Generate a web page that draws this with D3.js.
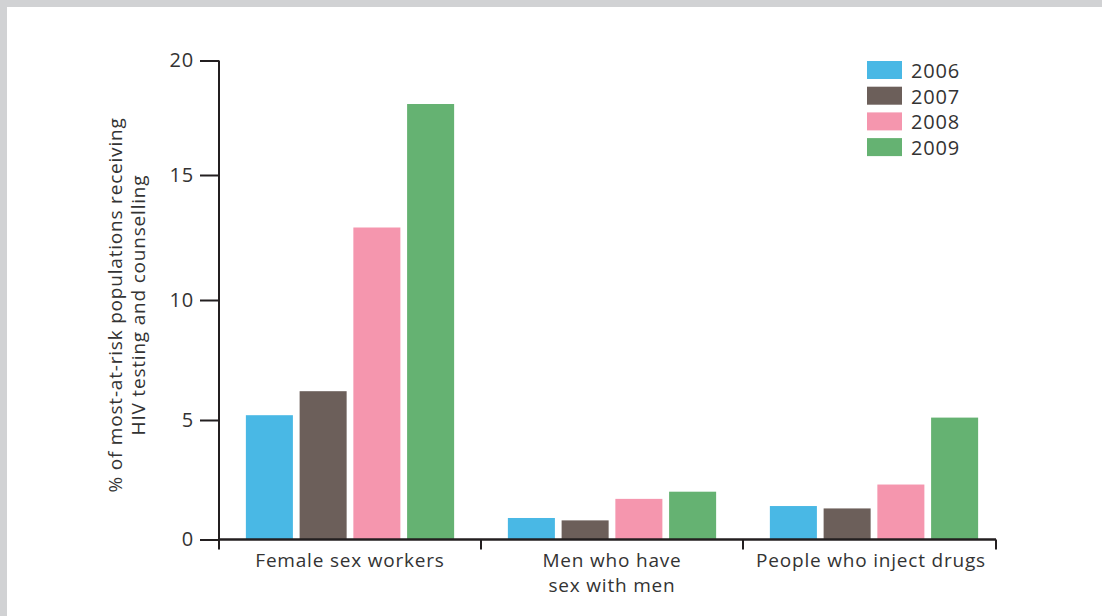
<!DOCTYPE html>
<html><head><meta charset="utf-8">
<script src="https://cdn.jsdelivr.net/npm/d3@7"></script>
<style>
html,body{margin:0;padding:0;background:#fff;}
svg{display:block;}
text{font-family:"Open Sans",sans-serif;fill:#333;font-weight:400;letter-spacing:0.8px;}
</style></head>
<body>
<svg id="c" width="1102" height="616"></svg>
<script>
const categories = [["Female sex workers"], ["Men who have", "sex with men"], ["People who inject drugs"]];
const years = ["2006", "2007", "2008", "2009"];
const values2006 = [5.2, 0.9, 1.4];
const values2007 = [6.2, 0.8, 1.3];
const values2008 = [12.9, 1.7, 2.3];
const values2009 = [18.1, 2.0, 5.1];
const yTicks = [0, 5, 10, 15, 20];
const yLabel = ["% of most-at-risk populations receiving", "HIV testing and counselling"];
const colors = ["#49b8e5", "#6c5f5a", "#f596ae", "#65b272"];

const series = [values2006, values2007, values2008, values2009];
const svg = d3.select("#c");
// frame
svg.append("rect").attr("x",0).attr("y",0).attr("width",1102).attr("height",616).attr("fill","#d1d2d4");
svg.append("rect").attr("x",7).attr("y",7).attr("width",1095).attr("height",609).attr("fill","#fff");

const catKeys = categories.map(c => c.join(" "));
const x0 = d3.scaleBand().domain(catKeys).range([219, 1005]);
const x1 = d3.scaleBand().domain(years).range([0, x0.bandwidth()]).paddingInner(0.125).paddingOuter(0.5);
// the source's tick spacing is slightly uneven; piecewise-linear scale reproduces it
const y = d3.scaleLinear().domain(yTicks).range([539.5, 420, 300, 175, 60.5]);
const color = d3.scaleOrdinal().domain(years).range(colors);

// bars
const g = svg.append("g");
catKeys.forEach((c, ci) => {
  years.forEach((yr, yi) => {
    const v = series[yi][ci];
    g.append("rect")
      .attr("x", x0(c) + x1(yr))
      .attr("y", y(v))
      .attr("width", x1.bandwidth())
      .attr("height", y(0) - y(v))
      .attr("fill", color(yr));
  });
});

// y axis
const yAxis = d3.axisLeft(y).tickValues(yTicks).tickSize(19).tickPadding(6);
const ya = svg.append("g").attr("transform", "translate(219,0)").call(yAxis);
ya.select(".domain").remove();
ya.selectAll(".tick line").attr("stroke", "#231f20").attr("stroke-width", 2);
ya.selectAll(".tick text").style("font-family", '"Open Sans",sans-serif').style("font-size", "20px").attr("fill", "#333");
svg.append("line").attr("x1", 219).attr("x2", 219).attr("y1", y(20)).attr("y2", y(0) + 10)
  .attr("stroke", "#231f20").attr("stroke-width", 2);

// x axis
const xEnd = x0.range()[1] - 9;
svg.append("line").attr("x1", 219).attr("x2", xEnd).attr("y1", y(0)).attr("y2", y(0))
  .attr("stroke", "#231f20").attr("stroke-width", 2.5);
const bounds = catKeys.map(c => x0(c)).concat([xEnd]);
svg.selectAll(".div").data(bounds.slice(1)).enter().append("line")
  .attr("x1", d => d).attr("x2", d => d).attr("y1", y(0)).attr("y2", y(0) + 10)
  .attr("stroke", "#231f20").attr("stroke-width", 2);

// category labels
categories.forEach((lines, ci) => {
  const cx = x0(catKeys[ci]) + x0.bandwidth() / 2 - (ci === 2 ? 3 : 0);
  const t = svg.append("text").attr("text-anchor", "middle")
    .attr("x", cx).attr("y", 567).style("font-size", "19px");
  lines.forEach((l, li) => t.append("tspan").attr("x", cx).attr("dy", li ? 25 : 0).text(l));
});

// y label
const yl = svg.append("text").attr("text-anchor", "middle")
  .attr("transform", "translate(122,305) rotate(-90)").style("font-size", "19px");
yLabel.forEach((l, li) => yl.append("tspan").attr("x", 0).attr("dy", li ? 23 : 0).text(l));

// legend
const lg = svg.append("g");
years.forEach((yr, i) => {
  lg.append("rect").attr("x", 867).attr("y", 61 + i * 25.7).attr("width", 35).attr("height", 18).attr("fill", color(yr));
  lg.append("text").attr("x", 911).attr("y", 78 + i * 25.7).style("font-size", "20px").text(yr);
});
</script>
</body></html>
